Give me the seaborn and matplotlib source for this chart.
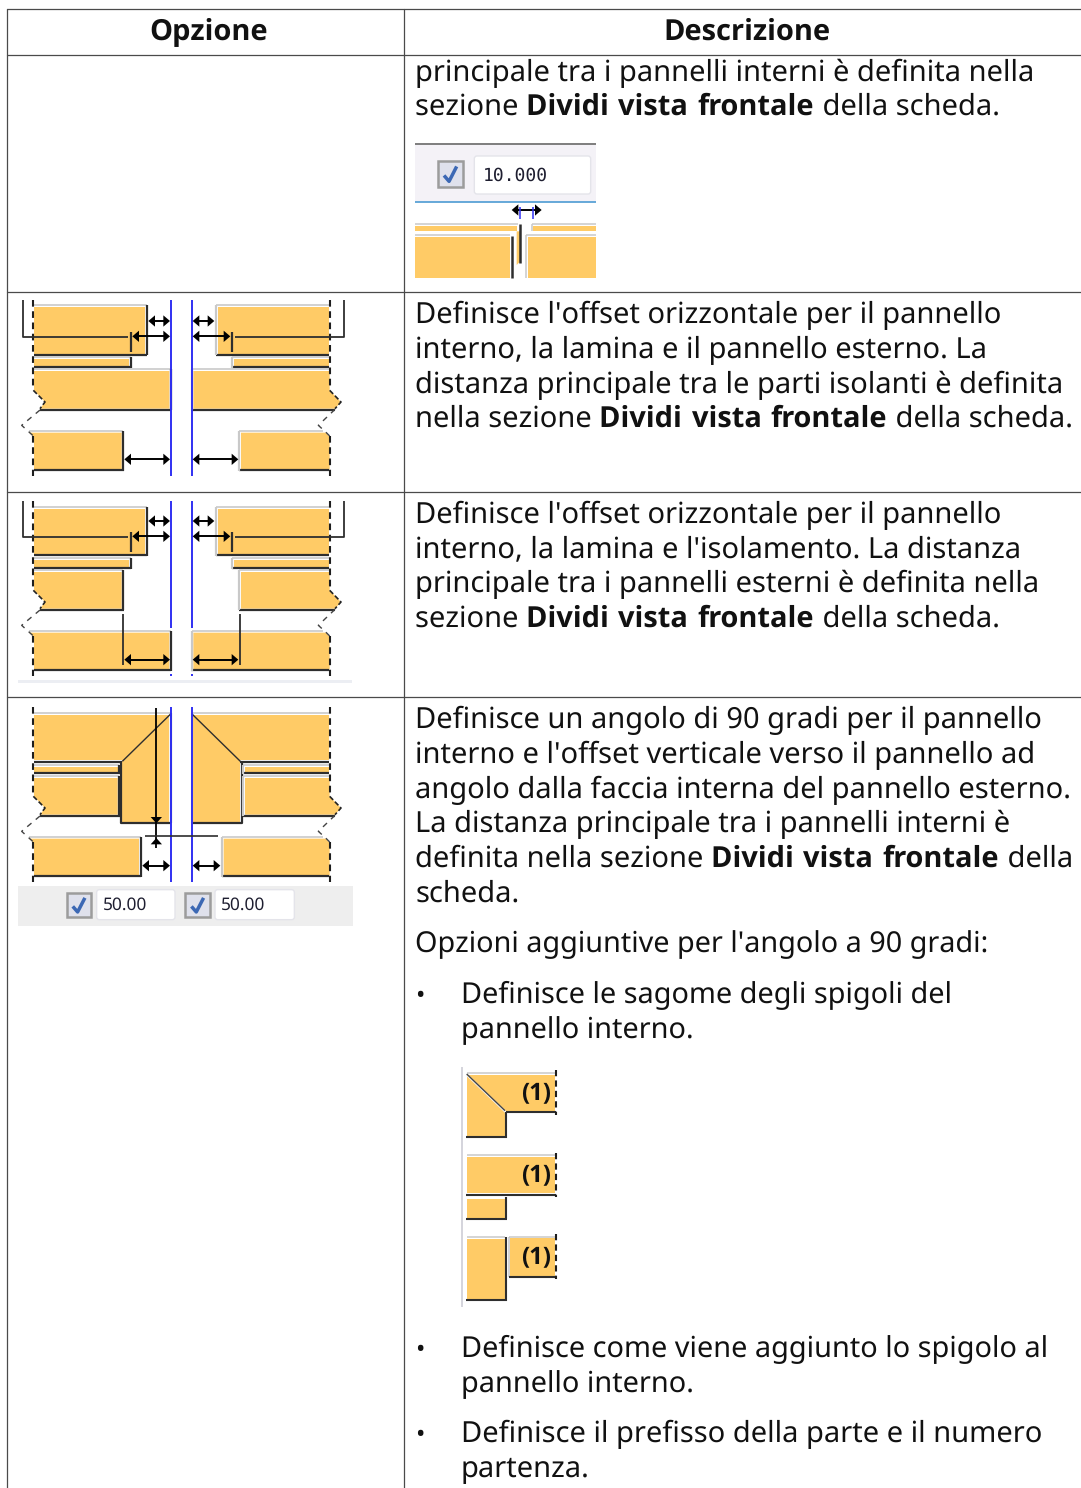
import matplotlib
matplotlib.use("Agg")
import matplotlib.pyplot as plt
import seaborn as sns
from matplotlib.transforms import Affine2D
from matplotlib.patches import Rectangle, FancyBboxPatch

# table text, * toggles bold
headers = ["Opzione", "Descrizione"]
row1_lines = ["principale tra i pannelli interni è definita nella",
              "sezione *Dividi vista frontale* della scheda."]
row2_lines = ["Definisce l'offset orizzontale per il pannello",
              "interno, la lamina e il pannello esterno. La",
              "distanza principale tra le parti isolanti è definita",
              "nella sezione *Dividi vista frontale* della scheda."]
row3_lines = ["Definisce l'offset orizzontale per il pannello",
              "interno, la lamina e l'isolamento. La distanza",
              "principale tra i pannelli esterni è definita nella",
              "sezione *Dividi vista frontale* della scheda."]
row4_lines = ["Definisce un angolo di 90 gradi per il pannello",
              "interno e l'offset verticale verso il pannello ad",
              "angolo dalla faccia interna del pannello esterno.",
              "La distanza principale tra i pannelli interni è",
              "definita nella sezione *Dividi vista frontale* della",
              "scheda."]
row4_extra = ["Opzioni aggiuntive per l'angolo a 90 gradi:"]
bullet1 = ["Definisce le sagome degli spigoli del", "pannello interno."]
bullet2 = ["Definisce come viene aggiunto lo spigolo al", "pannello interno."]
bullet3 = ["Definisce il prefisso della parte e il numero", "partenza."]
field_top = "10.000"
field_left = "50.00"
field_right = "50.00"
edge_label = "(1)"

YEL = "#ffcb66"
DARK = "#2e2e2e"
LIGHT = "#c9c9c9"
BLUE = "#3030f2"
BODY_PT = 20.95
BOLD_PT = 21.1
REG = ["Noto Sans", "DejaVu Sans"]
BOLD = ["Open Sans", "DejaVu Sans"]

sns.set_theme(style="white")
plt.rcParams["font.family"] = REG
plt.rcParams["text.hinting"] = "no_hinting"
plt.rcParams["text.hinting_factor"] = 1

fig = plt.figure(figsize=(10.81, 14.88), dpi=100)
ax = fig.add_axes([0, 0, 1, 1])
ax.set_xlim(0, 1081)
ax.set_ylim(1488, 0)
ax.set_autoscale_on(False)
ax.axis("off")
sns.despine(ax=ax, left=True, bottom=True)


def font_of(weight):
    return BOLD if weight == "bold" else REG


def size_of(weight, scale):
    return (BOLD_PT if weight == "bold" else BODY_PT) * scale


def text_w(s, weight, scale):
    # measure with x on both sides so spaces at the ends count
    r = fig.canvas.get_renderer()
    size = size_of(weight, scale)
    a = ax.text(0, 0, "x" + s + "x", fontsize=size, weight=weight, family=font_of(weight))
    b = ax.text(0, 0, "xx", fontsize=size, weight=weight, family=font_of(weight))
    w = a.get_window_extent(r).width - b.get_window_extent(r).width
    a.remove()
    b.remove()
    return w


def rich_line(x, y, line, scale=1.0):
    bold = False
    for part in line.split("*"):
        if part:
            weight = "bold" if bold else "normal"
            # bold runs a little short, so spread them word by word
            pieces = part.replace(" ", " |").split("|") if bold else [part]
            for piece in pieces:
                ax.text(x, y, piece, fontsize=size_of(weight, scale), weight=weight,
                        family=font_of(weight), va="baseline", ha="left", color="#111111")
                x += text_w(piece, weight, scale) + (1.7 if bold else 0)
        bold = not bold


def para(x, baselines, lines, scale=1.0):
    for y, line in zip(baselines, lines):
        rich_line(x, y, line, scale)


def zt(ox, oy, mirror=False):
    t = Affine2D()
    if mirror:
        t = t.scale(-1, 1).translate(1058, 0)
    return t.scale(1 / 3).translate(ox, oy) + ax.transData


def seg(tr, pts, color=DARK, lw=1.4, ls="-"):
    xs = [p[0] for p in pts]
    ys = [p[1] for p in pts]
    ax.plot(xs, ys, color=color, lw=lw, ls=ls, transform=tr, solid_capstyle="butt", zorder=3)


def block(tr, mirror, x0, y0, x1, y1, poly=None, bottom_from=None, top_from=None):
    pts = poly if poly else [(x0, y0), (x1, y0), (x1, y1), (x0, y1)]
    ax.fill([p[0] for p in pts], [p[1] for p in pts], color=YEL, lw=0, transform=tr, zorder=2)
    seg(tr, [(x0 if top_from is None else top_from, y0 - 6), (x1 + 5, y0 - 6)], LIGHT, 1.2)
    seg(tr, [(x0 if bottom_from is None else bottom_from, y1 + 3), (x1 + 6, y1 + 3)], DARK, 1.6)
    seg(tr, [(x1 + 5, y0 - 6), (x1 + 5, y1 + 5)], LIGHT if mirror else DARK, 1.6)


def arrow(tr, x0, x1, y):
    seg(tr, [(x0 + 6, y), (x1 - 6, y)], "black", 1.4)
    ax.fill([x0, x0 + 20, x0 + 20], [y, y - 17, y + 17], color="black", lw=0, transform=tr, zorder=4)
    ax.fill([x1, x1 - 20, x1 - 20], [y, y - 17, y + 17], color="black", lw=0, transform=tr, zorder=4)


def checkbox(tr, x0, y0, x1, y1):
    ax.add_patch(Rectangle((x0, y0), x1 - x0, y1 - y0, fc="#dfe1ec", ec="#9c9c9c", lw=1.8,
                           transform=tr, zorder=3))
    w = x1 - x0
    h = y1 - y0
    seg(tr, [(x0 + .25 * w, y0 + .55 * h), (x0 + .45 * w, y0 + .78 * h), (x0 + .75 * w, y0 + .2 * h)],
        "#3c68b4", 2.5)


def field(tr, x0, y0, x1, y1, label, family, size, dx=22):
    ax.add_patch(FancyBboxPatch((x0 + 6, y0 + 6), x1 - x0 - 12, y1 - y0 - 12,
                                boxstyle="round,pad=6,rounding_size=8", fc="white",
                                ec="#e4e4ea", lw=1, transform=tr, zorder=3))
    ax.text(x0 + dx, (y0 + y1) / 2 + 1, label, fontsize=size, family=family, va="center",
            ha="left", color="#1e1e30", transform=tr, zorder=4)


def upper_poly(mirror, x1, y0):
    if mirror:
        return [(84, y0), (84, 295), (50, 330), (68, 350), (x1, 350), (x1, y0)]
    return [(87, y0), (87, 295), (120, 330), (105, 350), (x1, 350), (x1, y0)]


def lower_poly(mirror, x1):
    if mirror:
        return [(96, 422), (84, 435), (84, 532), (x1, 532), (x1, 422)]
    return [(72, 422), (87, 435), (87, 532), (x1, 532), (x1, 422)]


def edges(tr, mirror, top=28, bottom=552):
    x = 84 if mirror else 85
    seg(tr, [(x, top), (x, 295)], "#1e1e1e", 1.5, (0, (3.2, 2.2)))
    seg(tr, [(x, 432), (x, bottom)], "#1e1e1e", 1.5, (0, (3.2, 2.2)))
    if mirror:
        seg(tr, [(84, 295), (50, 330), (68, 350)], "#222222", 1.2, (0, (3, 1.5)))
        seg(tr, [(68, 352), (118, 400), (96, 420), (84, 432)], "#444444", 1.0, (0, (4, 4)))
    else:
        seg(tr, [(85, 295), (120, 330), (105, 350)], "#222222", 1.2, (0, (3, 1.5)))
        seg(tr, [(105, 354), (50, 400), (72, 420), (85, 432)], "#444444", 1.0, (0, (4, 4)))


def leader(tr, mirror, top):
    # L shaped leader going to the tall tick
    far = 40 if mirror else 55
    end = 368 if mirror else 370
    seg(tr, [(far, top), (far, 134), (end, 134)], DARK, 1.3)
    seg(tr, [(378, 120), (378, 180)], DARK, 1.6)
    arrow(tr, 382, 495, 133)
    arrow(tr, 430, 495, 87)


# table grid
grid = "#4a4a4a"
for y in [9, 55, 292, 492, 697]:
    ax.plot([7, 1081], [y, y], color=grid, lw=0.9, zorder=1)
for x in [7, 404]:
    ax.plot([x, x], [9, 1488], color=grid, lw=0.9, zorder=1)

# header
ax.text(209, 40, headers[0], fontsize=BOLD_PT, weight="bold", family=BOLD, ha="center", va="baseline", color="#111111")
ax.text(747, 40, headers[1], fontsize=BOLD_PT, weight="bold", family=BOLD, ha="center", va="baseline", color="#111111")

# right column text
para(415.2, [81, 115], row1_lines)
para(415.2, [323, 358, 393, 427], row2_lines)
para(415.2, [523, 557, 592, 627], row3_lines)
para(415.2, [728, 763, 798, 832, 867, 902], row4_lines)
para(415.2, [952], row4_extra, 0.99)
para(461, [1003, 1038], bullet1, 0.992)
para(461, [1357, 1392], bullet2, 0.993)
para(461, [1442, 1477], bullet3)
for y in [1003, 1357, 1442]:
    ax.text(415, y, "•", fontsize=18, va="baseline", ha="left", color="#111111")

# small dialog picture, first row
t = zt(405, 130)
ax.add_patch(Rectangle((30, 44), 543, 171, fc="#f4f2f7", lw=0, transform=t, zorder=2))
seg(t, [(30, 43), (573, 43)], "#7d7d7d", 1.4)
seg(t, [(30, 216), (573, 216)], "#5aa2d6", 1.3)
checkbox(t, 98, 94, 174, 171)
field(t, 208, 78, 557, 192, field_top, "DejaVu Sans Mono", 13.2, dx=25)
ax.fill([30, 335, 335, 30], [288, 288, 304, 304], color=YEL, lw=0, transform=t, zorder=2)
ax.fill([335, 345, 345, 335], [304, 304, 395, 405], color=YEL, lw=0, transform=t, zorder=2)
ax.fill([385, 573, 573, 385], [288, 288, 304, 304], color=YEL, lw=0, transform=t, zorder=2)
ax.fill([30, 316, 316, 30], [322, 322, 443, 443], color=YEL, lw=0, transform=t, zorder=2)
ax.fill([368, 573, 573, 368], [322, 322, 443, 443], color=YEL, lw=0, transform=t, zorder=2)
seg(t, [(30, 283), (340, 283)], LIGHT, 1.1)
seg(t, [(381, 283), (573, 283)], LIGHT, 1.1)
seg(t, [(30, 315), (316, 315)], LIGHT, 1.1)
seg(t, [(363, 315), (573, 315)], LIGHT, 1.1)
seg(t, [(363, 315), (363, 443)], LIGHT, 1.1)
seg(t, [(381, 283), (381, 304)], LIGHT, 1.1)
seg(t, [(321, 318), (321, 443)], DARK, 1.8)
seg(t, [(346, 282), (346, 398)], DARK, 1.8)
arrow(t, 320, 410, 240)
seg(t, [(345, 232), (345, 268)], BLUE, 1.1)
seg(t, [(383, 232), (383, 268)], BLUE, 1.1)

# second row picture
for mirror in [False, True]:
    t = zt(5, 292, mirror)
    x_top = 420
    block(t, mirror, 87, 45, x_top, 185)
    block(t, mirror, 87, 201, 372, 222)
    block(t, mirror, 87, 237, 493, 350, upper_poly(mirror, 493, 237), bottom_from=68 if mirror else 105)
    block(t, mirror, 87, 422, 350, 532, lower_poly(mirror, 350), top_from=104 if mirror else 72)
    edges(t, mirror, top=25)
    leader(t, mirror, 25)
    arrow(t, 358, 495, 502)
    seg(t, [(498, 25), (498, 552)], BLUE, 1.4)

# third row picture
for mirror in [False, True]:
    t = zt(5, 492, mirror)
    block(t, mirror, 87, 52, 420, 187)
    block(t, mirror, 87, 205, 372, 225)
    block(t, mirror, 87, 240, 350, 350, upper_poly(mirror, 350, 240), bottom_from=68 if mirror else 105)
    block(t, mirror, 87, 422, 493, 532, lower_poly(mirror, 493), top_from=104 if mirror else 72)
    edges(t, mirror)
    leader(t, mirror, 28)
    seg(t, [(354, 367), (354, 520)], DARK, 1.3)
    arrow(t, 358, 495, 503)
    seg(t, [(498, 28), (498, 408)], BLUE, 1.4)
    seg(t, [(498, 545), (498, 553)], BLUE, 1.4)
t = zt(5, 492)
ax.add_patch(Rectangle((40, 563), 1000, 10, fc="#eceef3", lw=0, transform=t, zorder=2))

# fourth row picture
for mirror in [False, True]:
    t = zt(5, 698, mirror)
    bevel = [(87, 52), (493, 52), (493, 372), (352, 372), (352, 185), (87, 185)]
    ax.fill([p[0] for p in bevel], [p[1] for p in bevel], color=YEL, lw=0, transform=t, zorder=2)
    seg(t, [(87, 46), (498, 46)], LIGHT, 1.2)
    seg(t, [(87, 191), (352, 191)], DARK, 1.6)
    seg(t, [(348, 191), (348, 376), (498, 376)], DARK, 1.6)
    seg(t, [(497, 46), (497, 376)], LIGHT if mirror else DARK, 1.5)
    seg(t, [(352, 190), (497, 48)], DARK, 1.0)
    block(t, mirror, 87, 207, 338, 222)
    block(t, mirror, 87, 240, 338, 350, upper_poly(mirror, 338, 240), bottom_from=68 if mirror else 105)
    block(t, mirror, 87, 422, 402, 532, lower_poly(mirror, 402), top_from=104 if mirror else 72)
    edges(t, mirror)
    arrow(t, 412, 495, 503)
    seg(t, [(498, 28), (498, 552)], BLUE, 1.4)
t = zt(5, 698)
seg(t, [(454, 30), (454, 450)], "black", 1.3)
ax.fill([437, 471, 454], [357, 357, 376], color="black", lw=0, transform=t, zorder=4)
ax.fill([437, 471, 454], [439, 439, 420], color="black", lw=0, transform=t, zorder=4)
seg(t, [(420, 415), (640, 415)], DARK, 1.2)
ax.add_patch(Rectangle((40, 563), 1003, 121, fc="#eeeeee", lw=0, transform=t, zorder=2))
checkbox(t, 185, 585, 258, 658)
field(t, 275, 575, 510, 665, field_left, "Noto Sans", 12.5, dx=19)
checkbox(t, 541, 585, 614, 658)
field(t, 630, 575, 868, 665, field_right, "Noto Sans", 12.5, dx=19)

# edge shape pictures
t = zt(450, 1060)
seg(t, [(37, 20), (37, 740)], "#c9c9d2", 1.1)
dash = (0, (3, 2))
ax.fill([50, 316, 316, 168, 168, 50], [45, 45, 155, 155, 228, 228], color=YEL, lw=0, transform=t, zorder=2)
seg(t, [(50, 39), (316, 39)], LIGHT, 1.1)
seg(t, [(50, 44), (168, 157)], "#f4f4f4", 1.5)
seg(t, [(50, 42), (165, 152)], "#444444", 1.0)
seg(t, [(168, 157), (318, 157)], DARK, 1.5)
seg(t, [(168, 157), (168, 233)], DARK, 1.5)
seg(t, [(48, 231), (170, 231)], DARK, 1.5)
seg(t, [(317, 30), (317, 165)], "#1e1e1e", 1.5, dash)
ax.fill([50, 316, 316, 50], [292, 292, 400, 400], color=YEL, lw=0, transform=t, zorder=2)
seg(t, [(50, 286), (316, 286)], LIGHT, 1.1)
seg(t, [(48, 405), (318, 405)], DARK, 1.5)
seg(t, [(317, 278), (317, 412)], "#1e1e1e", 1.5, dash)
ax.fill([50, 164, 164, 50], [418, 418, 473, 473], color=YEL, lw=0, transform=t, zorder=2)
seg(t, [(168, 412), (168, 478)], DARK, 1.5)
seg(t, [(48, 477), (170, 477)], DARK, 1.5)
ax.fill([50, 164, 164, 50], [538, 538, 718, 718], color=YEL, lw=0, transform=t, zorder=2)
seg(t, [(50, 532), (166, 532)], LIGHT, 1.1)
seg(t, [(168, 532), (168, 722)], DARK, 1.5)
seg(t, [(48, 720), (170, 720)], DARK, 1.5)
ax.fill([180, 316, 316, 180], [535, 535, 648, 648], color=YEL, lw=0, transform=t, zorder=2)
seg(t, [(176, 530), (316, 530)], LIGHT, 1.1)
seg(t, [(176, 530), (176, 652)], LIGHT, 1.1)
seg(t, [(176, 651), (318, 651)], DARK, 1.5)
seg(t, [(317, 522), (317, 658)], "#1e1e1e", 1.5, dash)
for y in [99, 346, 592]:
    ax.text(258, y, edge_label, fontsize=17, weight="bold", family=BOLD, ha="center", va="center",
            color="#111111", transform=t, zorder=4)

fig.savefig("out.png", dpi=100)
